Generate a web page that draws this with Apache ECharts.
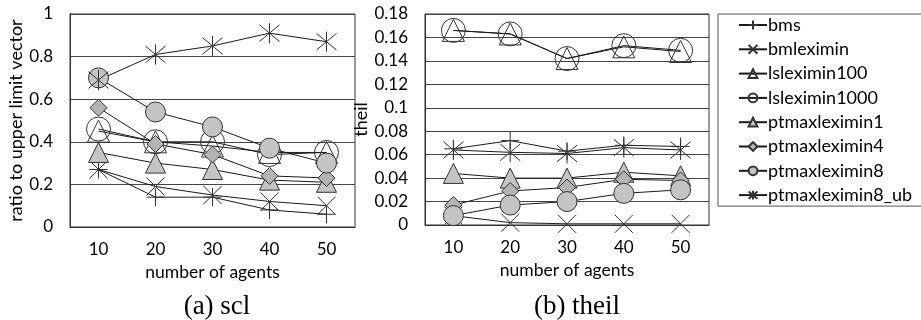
<!DOCTYPE html>
<html><head><meta charset="utf-8">
<script src="https://cdn.jsdelivr.net/npm/echarts@6/dist/echarts.min.js"></script>
<style>html,body{margin:0;padding:0;background:#fff}#c{width:921px;height:320px}</style>
</head><body><div id="c"></div>
<script>
var categories = ['10', '20', '30', '40', '50'];
var seriesNames = ['bms', 'bmleximin', 'lsleximin100', 'lsleximin1000', 'ptmaxleximin1', 'ptmaxleximin4', 'ptmaxleximin8', 'ptmaxleximin8_ub'];

var sclBms = [0.27, 0.14, 0.14, 0.08, 0.06];
var sclBmleximin = [0.27, 0.19, 0.15, 0.12, 0.10];
var sclLsleximin100 = [0.45, 0.40, 0.38, 0.35, 0.35];
var sclLsleximin1000 = [0.46, 0.40, 0.40, 0.34, 0.35];
var sclPtmaxleximin1 = [0.35, 0.30, 0.27, 0.22, 0.21];
var sclPtmaxleximin4 = [0.56, 0.39, 0.34, 0.24, 0.23];
var sclPtmaxleximin8 = [0.70, 0.54, 0.47, 0.37, 0.30];
var sclPtmaxleximin8Ub = [0.69, 0.81, 0.85, 0.91, 0.87];

var theilBms = [0.065, 0.072, 0.063, 0.068, 0.067];
var theilBmleximin = [0.008, 0.002, 0.001, 0.001, 0.001];
var theilLsleximin100 = [0.166, 0.163, 0.142, 0.152, 0.148];
var theilLsleximin1000 = [0.166, 0.163, 0.142, 0.153, 0.149];
var theilPtmaxleximin1 = [0.044, 0.040, 0.040, 0.045, 0.042];
var theilPtmaxleximin4 = [0.017, 0.029, 0.032, 0.039, 0.038];
var theilPtmaxleximin8 = [0.008, 0.017, 0.020, 0.027, 0.030];
var theilPtmaxleximin8Ub = [0.064, 0.062, 0.061, 0.066, 0.064];

var sclData = [sclBms, sclBmleximin, sclLsleximin100, sclLsleximin1000, sclPtmaxleximin1, sclPtmaxleximin4, sclPtmaxleximin8, sclPtmaxleximin8Ub];
var theilData = [theilBms, theilBmleximin, theilLsleximin100, theilLsleximin1000, theilPtmaxleximin1, theilPtmaxleximin4, theilPtmaxleximin8, theilPtmaxleximin8Ub];

var FONT = 'Lato';
var clear = 'rgba(255,255,255,0)';
var styles = [
  {symbol: 'path://M0,5L10,5M5,0L5,10', size: 18, fill: clear},
  {symbol: 'path://M0,0L10,10M10,0L0,10', size: 18, fill: clear},
  {symbol: 'triangle', size: 22, fill: clear},
  {symbol: 'circle', size: 24, fill: clear},
  {symbol: 'triangle', size: 20, fill: '#c4c4c4'},
  {symbol: 'diamond', size: 17, fill: '#b4b4b4'},
  {symbol: 'circle', size: 20, fill: '#c4c4c4'},
  {symbol: 'path://M0,1L10,11M10,1L0,11M5,0L5,12', size: 20, fill: clear}
];

function makeSeries(dataSets, axisIndex) {
  return dataSets.map(function (d, i) {
    var st = styles[i];
    return {
      name: seriesNames[i], type: 'line', data: d,
      xAxisIndex: axisIndex, yAxisIndex: axisIndex,
      symbol: st.symbol, symbolSize: st.size, showAllSymbol: true,
      lineStyle: {color: '#1a1a1a', width: 1},
      itemStyle: {color: st.fill, borderColor: '#333', borderWidth: 1},
      emphasis: {disabled: true}, animation: false
    };
  });
}

function yAxis(idx, max, interval, name, gap) {
  return {
    gridIndex: idx, type: 'value', min: 0, max: max, interval: interval,
    name: name, nameLocation: 'middle', nameGap: gap,
    nameTextStyle: {fontFamily: FONT, fontSize: 18, color: '#000'},
    axisLabel: {fontFamily: FONT, fontSize: 17, color: '#000', margin: 17},
    axisLine: {show: true, lineStyle: {color: '#333'}},
    axisTick: {show: false},
    splitLine: {lineStyle: {color: '#444', width: 1}}
  };
}
function xAxis(idx) {
  return {
    gridIndex: idx, type: 'category', data: categories, boundaryGap: true,
    name: 'number of agents', nameLocation: 'middle', nameGap: 32,
    nameTextStyle: {fontFamily: FONT, fontSize: 17.5, color: '#000'},
    axisLabel: {fontFamily: FONT, fontSize: 17, color: '#000', margin: 14},
    axisLine: {lineStyle: {color: '#333'}},
    axisTick: {show: false}
  };
}

var chart = echarts.init(document.getElementById('c'), null, {renderer: 'canvas'});
chart.setOption({
  animation: false,
  grid: [
    {left: 70, right: 566, top: 14, bottom: 93, show: true, borderColor: '#333', borderWidth: 1},
    {left: 425, right: 212, top: 14, bottom: 95, show: true, borderColor: '#333', borderWidth: 1}
  ],
  xAxis: [xAxis(0), xAxis(1)],
  yAxis: [yAxis(0, 1, 0.2, 'ratio to upper limit vector', 44), yAxis(1, 0.18, 0.02, 'theil', 50)],
  legend: {
    orient: 'vertical', left: 718, top: 14,
    padding: [2, 60, 2, 20], itemWidth: 28, itemHeight: 11, itemGap: 6.3,
    borderColor: '#555', borderWidth: 1,
    textStyle: {fontFamily: FONT, fontSize: 18, color: '#000', padding: [0, 0, 0, -4]},
    data: seriesNames, selectedMode: false
  },
  graphic: [
    {type: 'text', x: 217, y: 307, style: {text: '(a) scl', font: '27px "Liberation Serif"', fill: '#000', align: 'center', verticalAlign: 'middle'}},
    {type: 'text', x: 577, y: 307, style: {text: '(b) theil', font: '27px "Liberation Serif"', fill: '#000', align: 'center', verticalAlign: 'middle'}}
  ],
  series: makeSeries(sclData, 0).concat(makeSeries(theilData, 1))
});
</script></body></html>
